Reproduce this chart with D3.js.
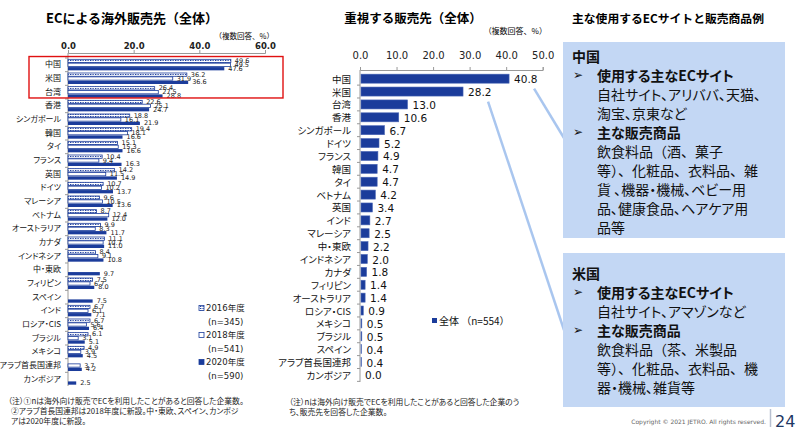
<!DOCTYPE html>
<html>
<head>
<meta charset="utf-8">
<script src="https://cdn.jsdelivr.net/npm/d3@7"></script>
<style>
body { margin: 0; background: #fff; }
svg { display: block; font-family: "DejaVu Sans", "Noto Sans CJK JP", sans-serif; }
.jp { font-family: "Noto Sans CJK JP", sans-serif; }
.palt { font-feature-settings: "palt"; }
</style>
</head>
<body>
<div id="chart"></div>
<script>
// ---- data: left chart (EC overseas sales destinations, by survey year)
const leftCats = ["中国", "米国", "台湾", "香港", "シンガポール", "韓国", "タイ", "フランス", "英国", "ドイツ",
  "マレーシア", "ベトナム", "オーストラリア", "カナダ", "インドネシア", "中・東欧", "フィリピン", "スペイン",
  "インド", "ロシア・CIS", "ブラジル", "メキシコ", "アラブ首長国連邦", "カンボジア"];
const v2016 = [49.6, 36.2, 26.4, 22.6, 18.8, 19.4, 15.1, 10.4, 14.2, 10.7, 9.6, 8.7, 9.9, 11.1, 8.4, null, 7.5, null, 6.7, 6.7, 6.1, 4.9, null, null];
const v2018 = [49.5, 31.9, 27.5, 25.1, 16.1, 18.1, 15.3, 9.4, 11.5, 10.2, 10.5, 12.4, 8.3, 10.7, 9.1, null, 6.7, null, 6.1, 5.6, 3.1, 3.9, 3.7, null];
const v2020 = [47.6, 36.6, 28.8, 24.7, 21.9, 16.6, 16.6, 16.3, 14.9, 13.7, 13.6, 12.0, 11.7, 11.0, 10.8, 9.7, 8.0, 7.5, 7.1, 6.4, 5.1, 4.5, 4.2, 2.5];
const leftTicks = [0, 20, 40, 60];
const legendYears = ["2016年度", "2018年度", "2020年度"];
const legendN = ["(n=345)", "(n=541)", "(n=590)"];

// ---- data: middle chart (important destinations)
const midCats = ["中国", "米国", "台湾", "香港", "シンガポール", "ドイツ", "フランス", "韓国", "タイ", "ベトナム",
  "英国", "インド", "マレーシア", "中・東欧", "インドネシア", "カナダ", "フィリピン", "オーストラリア",
  "ロシア・CIS", "メキシコ", "ブラジル", "スペイン", "アラブ首長国連邦", "カンボジア"];
const midVals = [40.8, 28.2, 13.0, 10.6, 6.7, 5.2, 4.9, 4.7, 4.7, 4.2, 3.4, 2.7, 2.5, 2.2, 2.0, 1.8, 1.4, 1.4, 0.9, 0.5, 0.5, 0.4, 0.4, 0.0];
const midTicks = [0, 10, 20, 30, 40, 50];

// ---- text boxes
const chinaLines = [["h", "中国"], ["b", "使用する主なECサイト"], ["t", "自社サイト、アリババ、天猫、"], ["t", "淘宝、京東など"],
  ["b", "主な販売商品"], ["t", "飲食料品（酒、菓子"], ["t", "等）、化粧品、衣料品、雑"], ["t", "貨 、機器・機械、ベビー用"],
  ["t", "品、健康食品、ヘアケア用"], ["t", "品等"]];
const usaLines = [["h", "米国"], ["b", "使用する主なECサイト"], ["t", "自社サイト、アマゾンなど"], ["b", "主な販売商品"],
  ["t", "飲食料品（茶、米製品"], ["t", "等）、化粧品、衣料品、機"], ["t", "器・機械、雑貨等"]];

const W = 800, H = 431;
const blue = "#1b3c9b";

const svg = d3.select("#chart").append("svg")
  .attr("width", W).attr("height", H);

const defs = svg.append("defs");
const pat = defs.append("pattern").attr("id", "dots")
  .attr("width", 2.5).attr("height", 2).attr("patternUnits", "userSpaceOnUse");
pat.append("rect").attr("width", 2.5).attr("height", 2).attr("fill", "#fff");
pat.append("rect").attr("width", 1.3).attr("height", 1).attr("fill", blue);

// ================= LEFT CHART =================
const xL = d3.scaleLinear().domain([0, 60]).range([68, 265]);
const yL = d3.scaleBand().domain(leftCats).range([58, 386]).paddingInner(0.15).paddingOuter(0.075);
const keys = ["2016", "2018", "2020"];
const sub = d3.scaleBand().domain(keys).range([0, yL.bandwidth()]);
const leftSeries = [v2016, v2018, v2020];

svg.append("text").attr("class", "jp")
  .attr("x", 132).attr("y", 17).attr("text-anchor", "middle").attr("dominant-baseline", "central")
  .attr("font-size", 13).attr("font-weight", "bold").text("ECによる海外販売先（全体）");
svg.append("text").attr("class", "jp")
  .attr("x", 274).attr("y", 35).attr("text-anchor", "end").attr("dominant-baseline", "central")
  .attr("font-size", 7.5).text("（複数回答、%）");

const axL = svg.append("g").attr("transform", "translate(0,53)")
  .call(d3.axisTop(xL).tickValues(leftTicks).tickFormat(d3.format(".1f")).tickSize(3).tickPadding(1.5));
axL.selectAll("path,line").attr("stroke", "#999");
axL.selectAll("text").attr("font-size", 8.5).attr("font-weight", "bold").attr("fill", "#222")
  .attr("font-family", "DejaVu Sans");

// y axis line and ticks at row boundaries
svg.append("line").attr("x1", xL(0)).attr("x2", xL(0)).attr("y1", 53).attr("y2", 386).attr("stroke", "#999");
svg.append("g").selectAll("line").data(leftCats).join("line")
  .attr("x1", xL(0) - 3).attr("x2", xL(0))
  .attr("y1", d => yL(d) - yL.step() * 0.075).attr("y2", d => yL(d) - yL.step() * 0.075)
  .attr("stroke", "#999");

svg.append("g").selectAll("text").data(leftCats).join("text")
  .attr("class", "jp palt")
  .attr("x", 61).attr("y", d => yL(d) + yL.bandwidth() / 2 - 1)
  .attr("text-anchor", "end").attr("dominant-baseline", "central")
  .attr("font-size", 8).attr("fill", "#111").text(d => d);

const leftBars = leftCats.flatMap((c, i) => keys.map((k, j) => ({ c, k, j, v: leftSeries[j][i] })))
  .filter(d => d.v != null);

svg.append("g").selectAll("rect").data(leftBars).join("rect")
  .attr("x", xL(0))
  .attr("y", d => yL(d.c) + sub(d.k) + 0.3)
  .attr("width", d => xL(d.v) - xL(0))
  .attr("height", sub.bandwidth() - 0.6)
  .attr("fill", d => d.j === 0 ? "url(#dots)" : d.j === 1 ? "#fff" : blue)
  .attr("stroke", d => d.j === 2 ? "none" : blue)
  .attr("stroke-width", 0.8);

svg.append("g").selectAll("text").data(leftBars).join("text")
  .attr("x", d => xL(d.v) + 4)
  .attr("y", d => yL(d.c) + sub(d.k) + sub.bandwidth() / 2)
  .attr("dominant-baseline", "central")
  .attr("font-size", 6.5).attr("fill", "#222")
  .text(d => d3.format(".1f")(d.v));

// red highlight frame round the top three rows
svg.append("rect")
  .attr("x", 29).attr("y", yL("中国") - 2.5)
  .attr("width", 254).attr("height", yL("台湾") + yL.bandwidth() - yL("中国") + 2.5)
  .attr("fill", "none").attr("stroke", "#e01010").attr("stroke-width", 1.4);

// legend
const lg = svg.append("g");
legendYears.forEach((t, i) => {
  const y = 308 + i * 27;
  lg.append("rect").attr("x", 199).attr("y", y - 2.5).attr("width", 5).attr("height", 5)
    .attr("fill", i === 0 ? "url(#dots)" : i === 1 ? "#fff" : blue)
    .attr("stroke", blue).attr("stroke-width", 0.8);
  lg.append("text").attr("x", 206).attr("y", y).attr("dominant-baseline", "central")
    .attr("font-size", 8.5).attr("fill", "#222").text(t);
  lg.append("text").attr("x", 208).attr("y", y + 14).attr("dominant-baseline", "central")
    .attr("font-size", 8.5).attr("fill", "#222").text(legendN[i]);
});

const notesL = ["（注）①nは海外向け販売でECを利用したことがあると回答した企業数。",
  "②アラブ首長国連邦は2018年度に新設。中・東欧、スペイン、カンボジ", "アは2020年度に新設。"];
svg.append("g").selectAll("text").data(notesL).join("text")
  .attr("class", "jp palt")
  .attr("x", (d, i) => i === 0 ? 8 : 11).attr("y", (d, i) => 400 + i * 10.3)
  .attr("dominant-baseline", "central").attr("font-size", 7.8).attr("fill", "#222").text(d => d);

// ================= MIDDLE CHART =================
const xM = d3.scaleLinear().domain([0, 50]).range([360, 542.7]);
const yM = d3.scaleBand().domain(midCats).range([70.3, 383.3]).padding(0.3);

svg.append("text").attr("class", "jp")
  .attr("x", 413).attr("y", 17).attr("text-anchor", "middle").attr("dominant-baseline", "central")
  .attr("font-size", 12.5).attr("font-weight", "bold").text("重視する販売先（全体）");
svg.append("text").attr("class", "jp")
  .attr("x", 547).attr("y", 30).attr("text-anchor", "end").attr("dominant-baseline", "central")
  .attr("font-size", 8).text("（複数回答、%）");

const axM = svg.append("g").attr("transform", "translate(0,70)")
  .call(d3.axisTop(xM).tickValues(midTicks).tickFormat(d3.format(".1f")).tickSize(3).tickPadding(8));
axM.selectAll("path,line").attr("stroke", "#999");
axM.selectAll("text").attr("font-size", 10).attr("fill", "#222").attr("font-family", "DejaVu Sans");

svg.append("line").attr("x1", xM(0)).attr("x2", xM(0)).attr("y1", 70).attr("y2", 382).attr("stroke", "#999");
svg.append("g").selectAll("line").data(midCats).join("line")
  .attr("x1", xM(0) - 3).attr("x2", xM(0))
  .attr("y1", d => yM(d) + yM.bandwidth() + yM.step() * 0.15)
  .attr("y2", d => yM(d) + yM.bandwidth() + yM.step() * 0.15)
  .attr("stroke", "#999");

svg.append("g").selectAll("text").data(midCats).join("text")
  .attr("class", "jp palt")
  .attr("x", 351).attr("y", d => yM(d) + yM.bandwidth() / 2)
  .attr("text-anchor", "end").attr("dominant-baseline", "central")
  .attr("font-size", 9.5).attr("fill", "#111").text(d => d);

const midData = midCats.map((c, i) => ({ c, v: midVals[i] }));
svg.append("g").selectAll("rect").data(midData).join("rect")
  .attr("x", xM(0) + 1)
  .attr("y", d => yM(d.c))
  .attr("width", d => Math.max(0, xM(d.v) - xM(0) - 1))
  .attr("height", yM.bandwidth())
  .attr("fill", blue).attr("stroke", "#4a66b5").attr("stroke-width", d => d.v > 0 ? 0.6 : 0);

svg.append("g").selectAll("text").data(midData).join("text")
  .attr("x", d => xM(d.v) + 5)
  .attr("y", d => yM(d.c) + yM.bandwidth() / 2 + 0.5)
  .attr("dominant-baseline", "central")
  .attr("font-size", 10.5).attr("fill", "#111")
  .text(d => d3.format(".1f")(d.v));

svg.append("rect").attr("x", 432).attr("y", 318).attr("width", 5).attr("height", 5).attr("fill", blue);
svg.append("text").attr("class", "jp").attr("x", 439).attr("y", 320.5).attr("dominant-baseline", "central")
  .attr("font-size", 10).attr("fill", "#111").text("全体 （n=554）");

const notesM = ["（注）nは海外向け販売でECを利用したことがあると回答した企業のう", "ち、販売先を回答した企業数。"];
svg.append("g").selectAll("text").data(notesM).join("text")
  .attr("class", "jp palt")
  .attr("x", 289).attr("y", (d, i) => 401.5 + i * 10.3)
  .attr("dominant-baseline", "central").attr("font-size", 7.8).attr("fill", "#222").text(d => d);

// ================= RIGHT PANEL =================
svg.append("text").attr("class", "jp")
  .attr("x", 572).attr("y", 17).attr("dominant-baseline", "central")
  .attr("font-size", 11.8).attr("font-weight", "bold").text("主な使用するECサイトと販売商品例");

const boxX = 563, boxW = 222;
const boxes = [
  { top: 42, h: 196, first: 56, lines: chinaLines, from: "中国" },
  { top: 253, h: 154, first: 273, lines: usaLines, from: "米国" }
];

// connector lines from the bar labels to the boxes
boxes.forEach((b, i) => {
  const v = midVals[midCats.indexOf(b.from)];
  svg.append("line")
    .attr("x1", xM(v) + 25).attr("y1", yM(b.from) + yM.bandwidth() / 2 + 10)
    .attr("x2", boxX + 1).attr("y2", i === 0 ? b.top + 96 : b.top + 77)
    .attr("stroke", "#a9c6ef").attr("stroke-width", 2.5);
});

boxes.forEach(b => {
  const g = svg.append("g");
  g.append("rect").attr("x", boxX).attr("y", b.top).attr("width", boxW).attr("height", b.h)
    .attr("fill", "#c3d7f4");
  b.lines.forEach(([type, t], i) => {
    const y = b.first + i * 19;
    if (type === "b") {
      g.append("text").attr("x", 573).attr("y", y).attr("dominant-baseline", "central")
        .attr("font-size", 12).attr("font-family", "DejaVu Sans").attr("fill", "#111").text("➢");
    }
    // full-width brackets keep their width, as in the original slide
    const prop = !/[（）]/.test(t);
    g.append("text").attr("class", prop ? "jp palt" : "jp")
      .attr("x", type === "h" ? 572 : 597).attr("y", y).attr("dominant-baseline", "central")
      .attr("font-size", 14).attr("font-weight", type === "t" ? "normal" : "bold")
      .attr("fill", "#111").text(t);
  });
});

// footer
svg.append("text").attr("x", 766).attr("y", 421.5).attr("text-anchor", "end").attr("dominant-baseline", "central")
  .attr("font-size", 6).attr("fill", "#666").text("Copyright © 2021 JETRO. All rights reserved.");
svg.append("line").attr("x1", 770.5).attr("x2", 770.5).attr("y1", 409).attr("y2", 427)
  .attr("stroke", "#b8c0d0").attr("stroke-width", 1.5);
svg.append("text").attr("x", 775).attr("y", 421.5).attr("dominant-baseline", "central")
  .attr("font-size", 16).attr("fill", "#1f3864").text("24");
</script>
</body>
</html>
